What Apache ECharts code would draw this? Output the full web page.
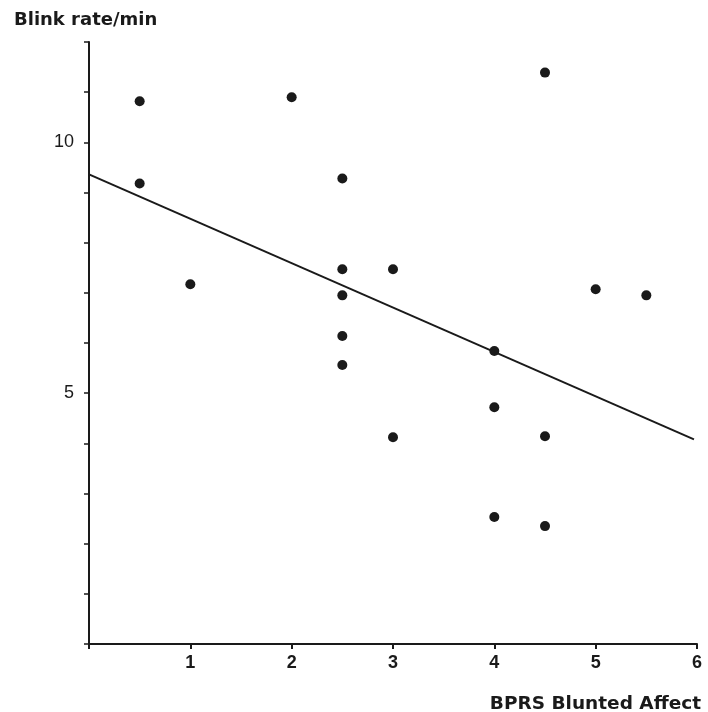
<!DOCTYPE html>
<html>
<head>
<meta charset="utf-8">
<script src="https://cdn.jsdelivr.net/npm/echarts@6/dist/echarts.min.js"></script>
<style>
    html, body { margin: 0; padding: 0; background: #fff; }
    #chart { width: 708px; height: 712px; }
</style>
</head>
<body>
<div id="chart"></div>
<script>
    // BPRS blunted affect score vs blink rate, one point per patient
    const affectScores = [0.5, 0.5, 1, 2, 2.5, 2.5, 2.5, 2.5, 2.5, 3, 3, 4, 4, 4, 4.5, 4.5, 4.5, 5, 5.5];
    const blinkRates = [10.82, 9.18, 7.17, 10.9, 9.28, 7.47, 6.95, 6.14, 5.56, 7.47, 4.12, 5.84, 4.72, 2.53, 11.39, 4.14, 2.35, 7.07, 6.95];

    // regression line end points
    const fitX = [0, 5.97];
    const fitY = [9.36, 4.08];

    const xTickLabels = ['', '1', '2', '3', '4', '5', '6'];
    const yTickLabels = { 5: '5', 10: '10' };

    const ink = '#1a1a1a';
    const chart = echarts.init(document.getElementById('chart'));

    const option = {
        animation: false,
        title: [
            {
                text: 'Blink rate/min',
                left: 9,
                top: 6,
                textStyle: { fontFamily: 'DejaVu Sans', fontWeight: 'bold', fontSize: 18, color: ink }
            },
            {
                text: 'BPRS Blunted Affect',
                right: 2,
                top: 690,
                textStyle: { fontFamily: 'DejaVu Sans', fontWeight: 'bold', fontSize: 18.5, color: ink }
            }
        ],
        grid: {
            left: 89,
            right: 11,
            top: 42,
            bottom: 68
        },
        xAxis: {
            type: 'value',
            min: 0,
            max: 6,
            interval: 1,
            splitLine: { show: false },
            axisLine: { lineStyle: { color: ink, width: 2 } },
            axisTick: { show: true, length: 5, lineStyle: { color: ink, width: 2 } },
            axisLabel: {
                color: ink,
                fontFamily: 'Liberation Sans',
                fontWeight: 'bold',
                fontSize: 18,
                margin: 10,
                formatter: (v) => xTickLabels[v] || ''
            }
        },
        yAxis: {
            type: 'value',
            min: 0,
            max: 12,
            interval: 1,
            splitLine: { show: false },
            axisLine: { show: true, lineStyle: { color: ink, width: 2 } },
            axisTick: { show: true, length: 5, lineStyle: { color: ink, width: 1.5 } },
            axisLabel: {
                color: ink,
                fontFamily: 'Liberation Sans',
                fontSize: 18,
                margin: 15,
                formatter: (v) => yTickLabels[v] || ''
            }
        },
        series: [
            {
                type: 'scatter',
                symbol: 'circle',
                symbolSize: 10,
                itemStyle: { color: ink, opacity: 1 },
                data: affectScores.map((x, i) => [x, blinkRates[i]])
            },
            {
                type: 'line',
                symbol: 'none',
                lineStyle: { color: ink, width: 2 },
                data: fitX.map((x, i) => [x, fitY[i]])
            }
        ]
    };

    chart.setOption(option);
</script>
</body>
</html>
